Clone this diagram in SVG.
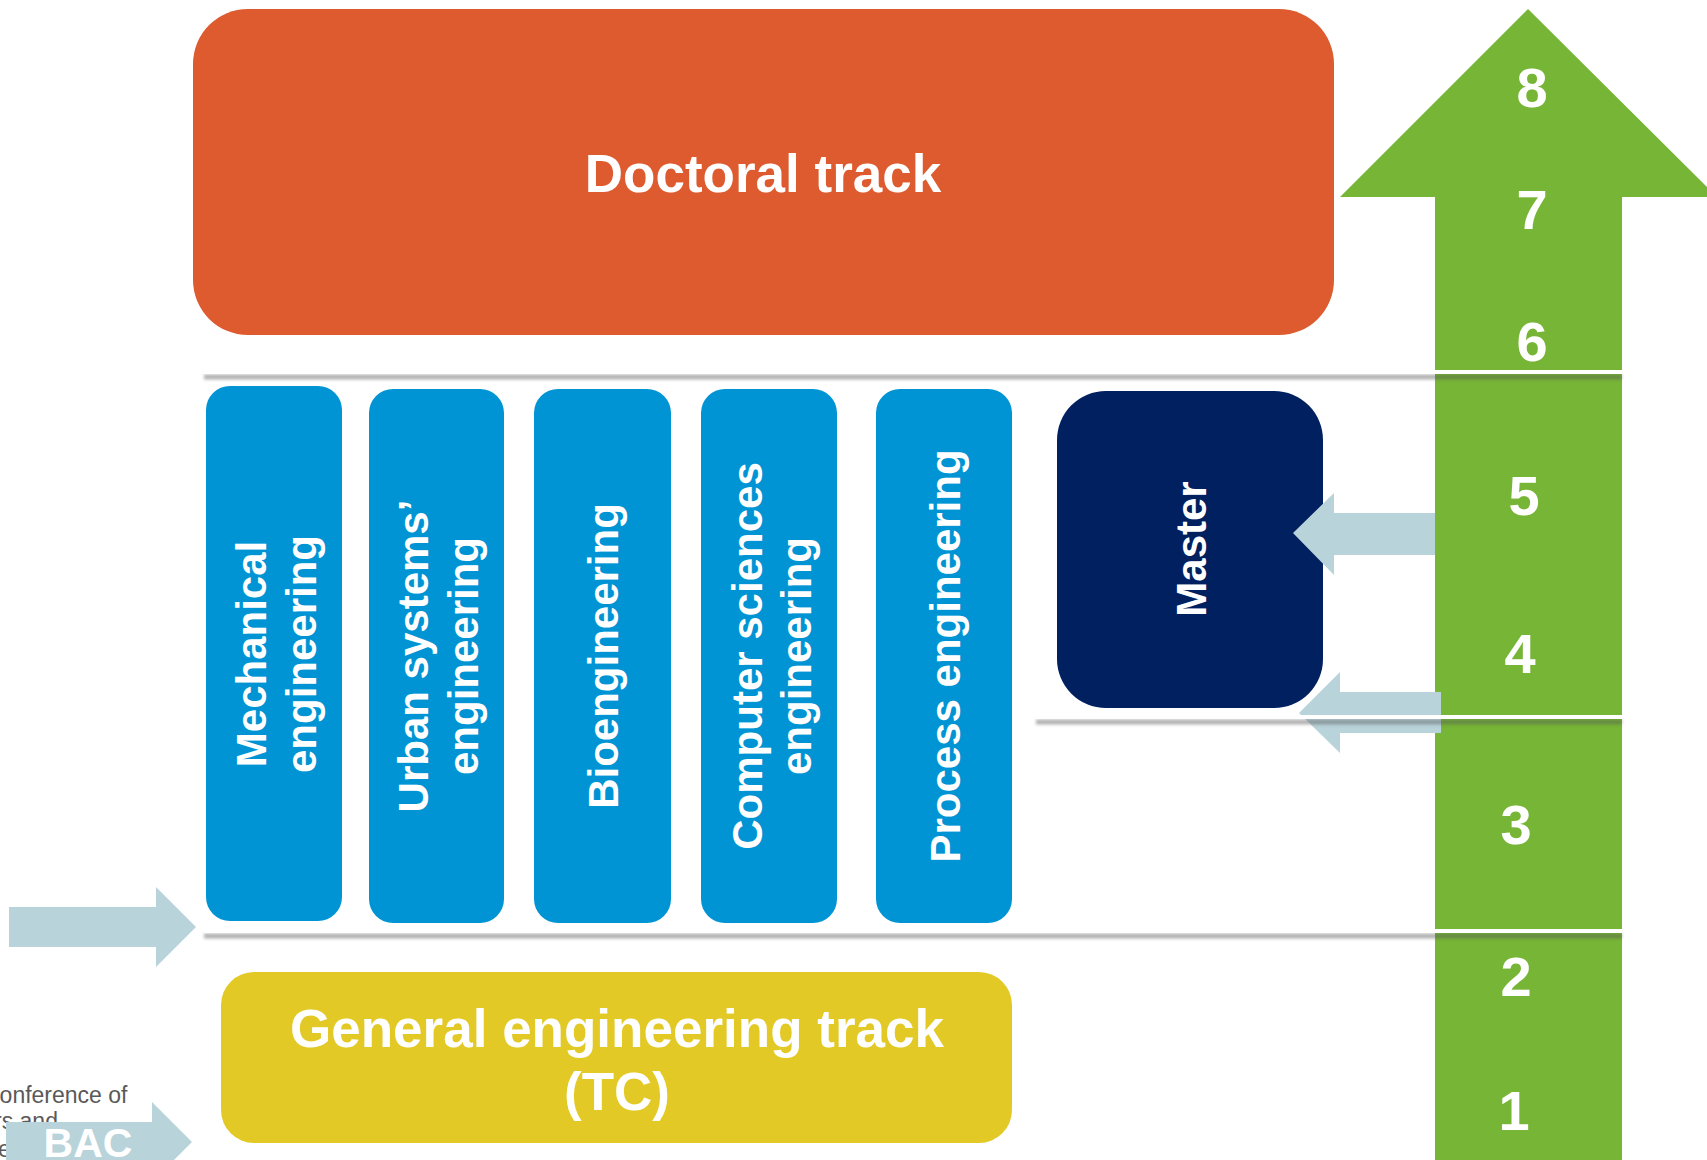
<svg xmlns="http://www.w3.org/2000/svg" width="1707" height="1160" viewBox="0 0 1707 1160">
<defs>
<style>
.t{font-family:"Liberation Sans",Arial,sans-serif;font-weight:bold;fill:#fff;text-anchor:middle}
.v{font-size:42px}
.n{font-size:56px}
.big{font-size:53px}
.arr{fill:#B9D3DB}
.sh{stroke:#555;stroke-width:5;opacity:0.45;filter:url(#blur)}
.ln{stroke:#fff;stroke-width:4}
.blue{fill:#0094D4}
</style>
<filter id="blur" filterUnits="userSpaceOnUse" x="0" y="0" width="1707" height="1160"><feGaussianBlur stdDeviation="1.6"/></filter>
</defs>
<rect width="1707" height="1160" fill="#fff"/>
<g id="footnote" font-family="Liberation Sans,Arial,sans-serif" font-size="23" fill="#595959">
<text x="-17" y="1103">Conference of</text>
<text x="-6" y="1129">rs and</text>
<text x="-2" y="1157">e</text>
</g>
<g id="scale">
<polygon points="1528,9 1717,197 1622,197 1622,1160 1435,1160 1435,197 1340,197" fill="#76B535"/>
<text class="t n" x="1532" y="107">8</text>
<text class="t n" x="1532" y="229">7</text>
<text class="t n" x="1532" y="361">6</text>
<text class="t n" x="1524" y="515">5</text>
<text class="t n" x="1520" y="673">4</text>
<text class="t n" x="1516" y="844">3</text>
<text class="t n" x="1516" y="996">2</text>
<text class="t n" x="1514" y="1130">1</text>
</g>
<g id="doctoral">
<rect x="193" y="9" width="1141" height="326" rx="55" fill="#DD5B2F"/>
<text class="t big" x="763" y="192">Doctoral track</text>
</g>
<g id="general">
<rect x="221" y="972" width="791" height="171" rx="33" fill="#E2C926"/>
<text class="t big" x="617" y="1047">General engineering track</text>
<text class="t big" x="617" y="1110">(TC)</text>
</g>
<g id="mechanical">
<rect class="blue" x="206" y="386" width="136" height="535" rx="24"/>
<g transform="translate(274,654) rotate(-90)"><text class="t v" x="0" y="-8">Mechanical</text><text class="t v" x="0" y="42">engineering</text></g>
</g>
<g id="urban">
<rect class="blue" x="369" y="389" width="135" height="534" rx="24"/>
<g transform="translate(436,656) rotate(-90)"><text class="t v" x="0" y="-8">Urban systems’</text><text class="t v" x="0" y="42">engineering</text></g>
</g>
<g id="bio">
<rect class="blue" x="534" y="389" width="137" height="534" rx="24"/>
<g transform="translate(602,656) rotate(-90)"><text class="t v" x="0" y="16">Bioengineering</text></g>
</g>
<g id="computer">
<rect class="blue" x="701" y="389" width="136" height="534" rx="24"/>
<g transform="translate(769,656) rotate(-90)"><text class="t v" x="0" y="-7">Computer sciences</text><text class="t v" x="0" y="42">engineering</text></g>
</g>
<g id="process">
<rect class="blue" x="876" y="389" width="136" height="534" rx="24"/>
<g transform="translate(944,656) rotate(-90)"><text class="t v" x="0" y="16">Process engineering</text></g>
</g>
<g id="master">
<rect x="1057" y="391" width="266" height="317" rx="49" fill="#00205F"/>
<g transform="translate(1190,549) rotate(-90)"><text class="t v" x="0" y="16">Master</text></g>
</g>
<g id="connectors">
<polygon class="arr" points="9,907 156,907 156,887 196,927 156,967 156,947 9,947"/>
<polygon class="arr" points="6,1122 152,1122 152,1102 192,1142 152,1182 152,1162 6,1162"/>
<polygon class="arr" points="1435,513 1334,513 1334,493 1293,533 1334,575 1334,555 1435,555"/>
<polygon class="arr" points="1441,692 1340,692 1340,672 1299,713 1340,753 1340,733 1441,733"/>
<text class="t" x="88" y="1157" font-size="41">BAC</text>
</g>
<g id="separators">
<line class="sh" x1="204" y1="377" x2="1622" y2="377"/>
<line class="ln" x1="204" y1="372" x2="1622" y2="372"/>
<line class="sh" x1="1036" y1="722" x2="1622" y2="722"/>
<line class="ln" x1="1036" y1="717" x2="1622" y2="717"/>
<line class="sh" x1="204" y1="936" x2="1622" y2="936"/>
<line class="ln" x1="204" y1="931" x2="1622" y2="931"/>
</g>
</svg>
